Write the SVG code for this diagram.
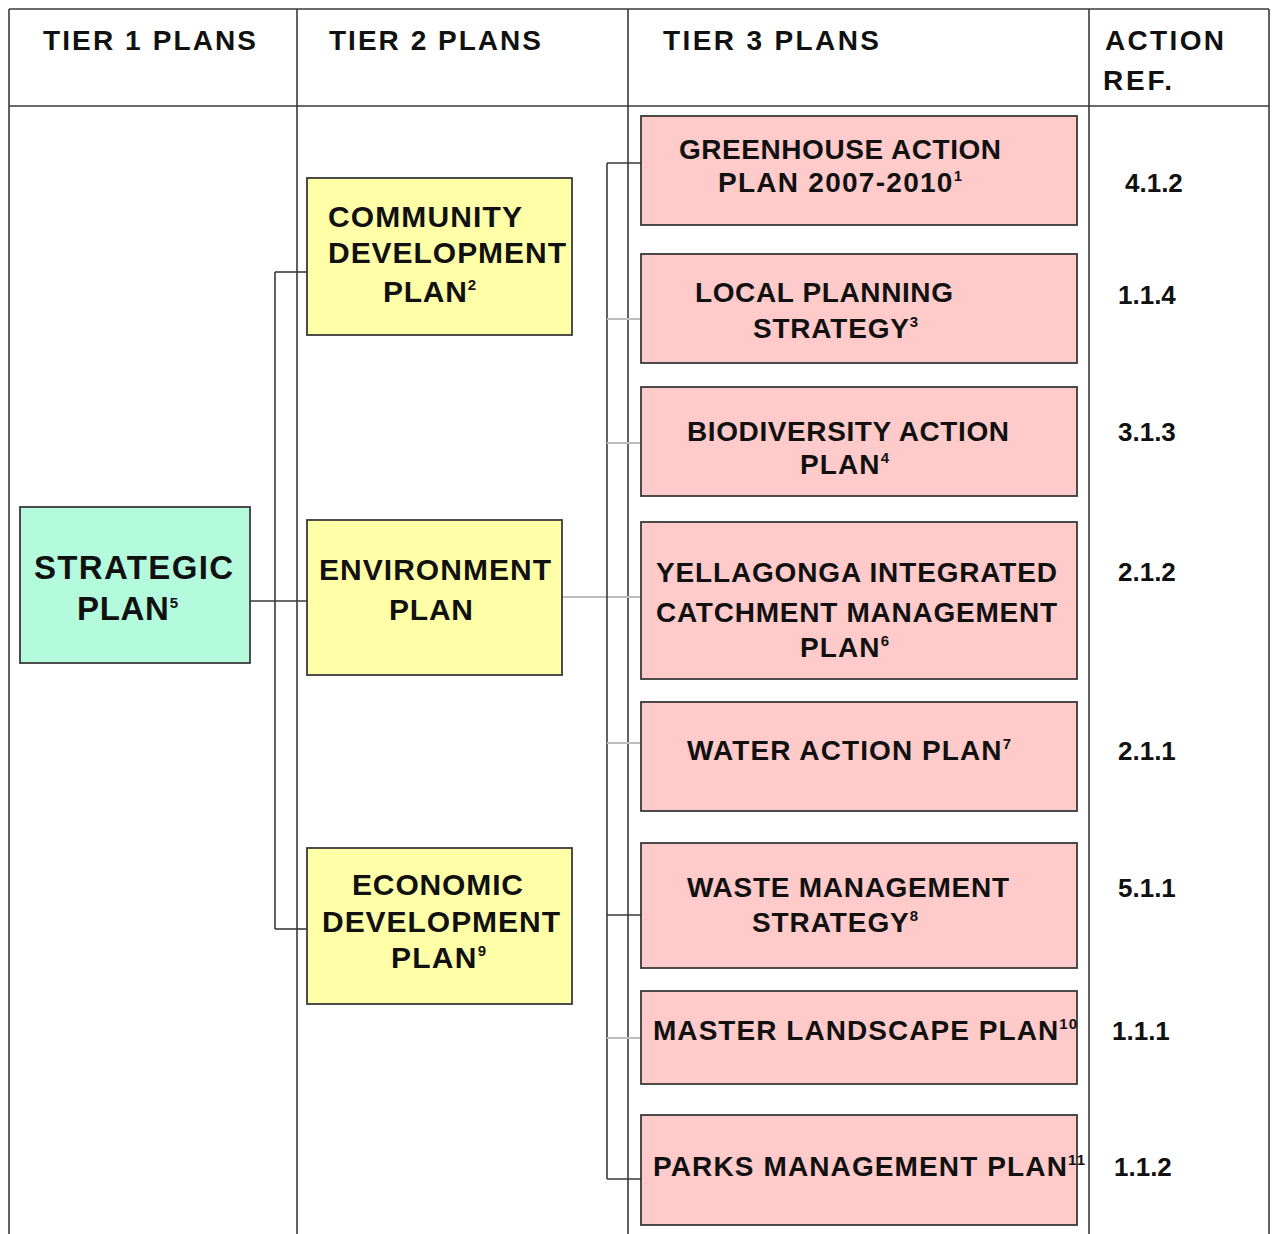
<svg xmlns="http://www.w3.org/2000/svg" width="1272" height="1234" viewBox="0 0 1272 1234">
<style>
  text { font-family: "Liberation Sans", Arial, sans-serif; font-weight: bold; fill: #111; }
  .hd { font-size: 28px; }
  .t1 { font-size: 33px; }
  .t2 { font-size: 30px; }
  .t3 { font-size: 28px; }
  .ref { font-size: 26px; }
  .sup { font-size: 15px; }
  .grid { stroke: #3a3a3a; stroke-width: 1.6; fill: none; }
  .box { stroke: #3a3a3a; stroke-width: 1.8; }
  .mint { fill: #b4fadc; }
  .yel { fill: #ffffa8; }
  .pink { fill: #ffcaca; }
  .cd { stroke: #3a3a3a; stroke-width: 1.6; fill: none; }
  .cl { stroke: #bdbdbd; stroke-width: 2; fill: none; }
</style>
<rect width="1272" height="1234" fill="#ffffff"/>
<g id="table">
  <line class="grid" x1="9" y1="9" x2="1269" y2="9"/>
  <line class="grid" x1="9" y1="106" x2="1269" y2="106"/>
  <line class="grid" x1="9" y1="9" x2="9" y2="1234"/>
  <line class="grid" x1="297" y1="9" x2="297" y2="1234"/>
  <line class="grid" x1="628" y1="9" x2="628" y2="1234"/>
  <line class="grid" x1="1089" y1="9" x2="1089" y2="1234"/>
  <line class="grid" x1="1269" y1="9" x2="1269" y2="1234"/>
  <text class="hd" x="43" y="50" textLength="213">TIER 1 PLANS</text>
  <text class="hd" x="329" y="50" textLength="212">TIER 2 PLANS</text>
  <text class="hd" x="663" y="50" textLength="216">TIER 3 PLANS</text>
  <text class="hd" x="1105" y="50" textLength="119">ACTION</text>
  <text class="hd" x="1103" y="90" textLength="69">REF.</text>
</g>
<g id="connectors">
  <line class="cd" x1="250" y1="601" x2="307" y2="601"/>
  <line class="cd" x1="275" y1="272" x2="275" y2="929"/>
  <line class="cd" x1="275" y1="272" x2="307" y2="272"/>
  <line class="cd" x1="275" y1="929" x2="307" y2="929"/>
  <line class="cl" x1="562" y1="597" x2="641" y2="597"/>
  <line class="cd" x1="607" y1="163" x2="607" y2="1179"/>
  <line class="cd" x1="607" y1="163" x2="641" y2="163"/>
  <line class="cl" x1="607" y1="319" x2="641" y2="319"/>
  <line class="cl" x1="607" y1="443" x2="641" y2="443"/>
  <line class="cl" x1="607" y1="743" x2="641" y2="743"/>
  <line class="cd" x1="607" y1="915" x2="641" y2="915"/>
  <line class="cl" x1="607" y1="1038" x2="641" y2="1038"/>
  <line class="cd" x1="607" y1="1179" x2="641" y2="1179"/>
</g>
<g id="strategic">
  <rect class="box mint" x="20" y="507" width="230" height="156"/>
  <text class="t1" x="34" y="579" textLength="199">STRATEGIC</text>
  <text class="t1" x="77" y="620" textLength="101">PLAN<tspan class="sup" dy="-12">5</tspan></text>
</g>
<g id="community">
  <rect class="box yel" x="307" y="178" width="265" height="157"/>
  <text class="t2" x="328" y="227" textLength="194">COMMUNITY</text>
  <text class="t2" x="328" y="263" textLength="238">DEVELOPMENT</text>
  <text class="t2" x="383" y="302" textLength="93">PLAN<tspan class="sup" dy="-12">2</tspan></text>
</g>
<g id="environment">
  <rect class="box yel" x="307" y="520" width="255" height="155"/>
  <text class="t2" x="319" y="580" textLength="232">ENVIRONMENT</text>
  <text class="t2" x="389" y="620" textLength="84">PLAN</text>
</g>
<g id="economic">
  <rect class="box yel" x="307" y="848" width="265" height="156"/>
  <text class="t2" x="352" y="895" textLength="171">ECONOMIC</text>
  <text class="t2" x="322" y="932" textLength="238">DEVELOPMENT</text>
  <text class="t2" x="391" y="968" textLength="95">PLAN<tspan class="sup" dy="-12">9</tspan></text>
</g>
<g id="greenhouse">
  <rect class="box pink" x="641" y="116" width="436" height="109"/>
  <text class="t3" x="679" y="159" textLength="322">GREENHOUSE ACTION</text>
  <text class="t3" x="718" y="192" textLength="244">PLAN 2007-2010<tspan class="sup" dy="-11">1</tspan></text>
</g>
<g id="local-planning">
  <rect class="box pink" x="641" y="254" width="436" height="109"/>
  <text class="t3" x="695" y="302" textLength="258">LOCAL PLANNING</text>
  <text class="t3" x="753" y="338" textLength="165">STRATEGY<tspan class="sup" dy="-11">3</tspan></text>
</g>
<g id="biodiversity">
  <rect class="box pink" x="641" y="387" width="436" height="109"/>
  <text class="t3" x="687" y="441" textLength="322">BIODIVERSITY ACTION</text>
  <text class="t3" x="800" y="474" textLength="89">PLAN<tspan class="sup" dy="-11">4</tspan></text>
</g>
<g id="yellagonga">
  <rect class="box pink" x="641" y="522" width="436" height="157"/>
  <text class="t3" x="656" y="582" textLength="401">YELLAGONGA INTEGRATED</text>
  <text class="t3" x="656" y="622" textLength="401">CATCHMENT MANAGEMENT</text>
  <text class="t3" x="800" y="657" textLength="89">PLAN<tspan class="sup" dy="-11">6</tspan></text>
</g>
<g id="water">
  <rect class="box pink" x="641" y="702" width="436" height="109"/>
  <text class="t3" x="687" y="760" textLength="324">WATER ACTION PLAN<tspan class="sup" dy="-11">7</tspan></text>
</g>
<g id="waste">
  <rect class="box pink" x="641" y="843" width="436" height="125"/>
  <text class="t3" x="687" y="897" textLength="322">WASTE MANAGEMENT</text>
  <text class="t3" x="752" y="932" textLength="166">STRATEGY<tspan class="sup" dy="-11">8</tspan></text>
</g>
<g id="master-landscape">
  <rect class="box pink" x="641" y="991" width="436" height="93"/>
  <text class="t3" x="653" y="1040" textLength="424">MASTER LANDSCAPE PLAN<tspan class="sup" dy="-11">10</tspan></text>
</g>
<g id="parks">
  <rect class="box pink" x="641" y="1115" width="436" height="110"/>
  <text class="t3" x="653" y="1176" textLength="432">PARKS MANAGEMENT PLAN<tspan class="sup" dy="-11">11</tspan></text>
</g>
<g id="action-refs">
  <text class="ref" x="1125" y="192">4.1.2</text>
  <text class="ref" x="1118" y="304">1.1.4</text>
  <text class="ref" x="1118" y="441">3.1.3</text>
  <text class="ref" x="1118" y="581">2.1.2</text>
  <text class="ref" x="1118" y="760">2.1.1</text>
  <text class="ref" x="1118" y="897">5.1.1</text>
  <text class="ref" x="1112" y="1040">1.1.1</text>
  <text class="ref" x="1114" y="1176">1.1.2</text>
</g>
</svg>
